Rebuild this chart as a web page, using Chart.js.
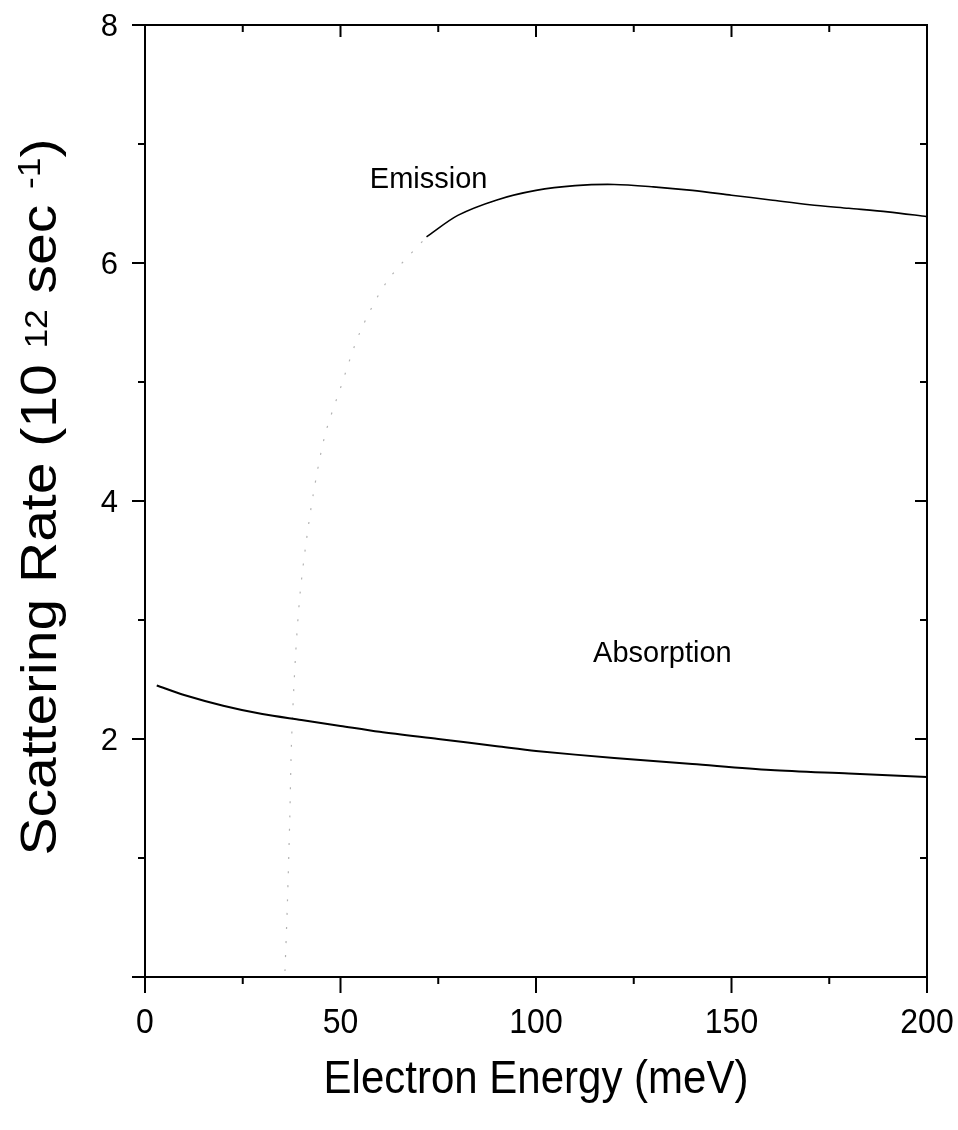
<!DOCTYPE html>
<html>
<head>
<meta charset="utf-8">
<script src="https://cdn.jsdelivr.net/npm/chart.js@4"></script>
<style>
  html, body { margin: 0; padding: 0; background: #fff; }
  #wrap { width: 958px; height: 1130px; }
</style>
</head>
<body>
<div id="wrap"><canvas id="myChart" width="958" height="1130"></canvas></div>
<script>
// Datos (meV, 10^12 s^-1)
const onsetEnergy = [35.8, 36.4, 37.0, 37.5, 38.5, 39.6, 41, 43, 46, 50, 55, 62, 72];
const onsetRate   = [0.05, 0.6, 1.3, 2.0, 2.7, 3.2, 3.6, 4.05, 4.55, 4.95, 5.42, 5.85, 6.22];

const emissionEnergy = [72, 80, 90, 100, 110, 120, 130, 140, 150, 160, 170, 180, 190, 200];
const emissionRate   = [6.22, 6.4, 6.53, 6.61, 6.65, 6.66, 6.64, 6.61, 6.57, 6.53, 6.49, 6.46, 6.43, 6.39];

const absorptionEnergy = [3, 10, 20, 30, 40, 50, 60, 75, 90, 100, 120, 140, 160, 180, 200];
const absorptionRate   = [2.45, 2.37, 2.28, 2.21, 2.16, 2.11, 2.06, 2.0, 1.94, 1.9, 1.84, 1.79, 1.74, 1.71, 1.68];

// Etiquetas de las curvas (posicion en unidades de datos)
const curveLabels = ['Emission', 'Absorption'];
const curveLabelX = [57.5, 114.6];
const curveLabelY = [6.63, 2.65];

const xTicksMajor = [0, 50, 100, 150, 200];
const yTicksMajor = [2, 4, 6, 8];

function toPoints(xs, ys) {
    return xs.map((x, i) => ({ x: x, y: ys[i] }));
}

const FONT = '"Liberation Sans", Arial, sans-serif';

// Marco, marcas de los ejes, titulos y etiquetas
const decoPlugin = {
    id: 'deco',
    afterDatasetsDraw(chart) {
        const ctx = chart.ctx;
        const xs = chart.scales.x, ys = chart.scales.y;
        const a = chart.chartArea;
        ctx.save();
        ctx.strokeStyle = '#000';
        ctx.lineWidth = 2;
        ctx.strokeRect(a.left, a.top, a.right - a.left, a.bottom - a.top);

        ctx.beginPath();
        for (let v = 0; v <= 200; v += 25) {
            const px = xs.getPixelForValue(v);
            const major = v % 50 === 0;
            ctx.moveTo(px, a.bottom); ctx.lineTo(px, a.bottom + (major ? 16 : 7));
            ctx.moveTo(px, a.top); ctx.lineTo(px, a.top + (major ? 12 : 7));
        }
        for (let v = 0; v <= 8; v += 1) {
            const py = ys.getPixelForValue(v);
            const major = v % 2 === 0;
            ctx.moveTo(a.left, py); ctx.lineTo(a.left - (major ? 13 : 7), py);
            ctx.moveTo(a.right, py); ctx.lineTo(a.right - (major ? 12 : 7), py);
        }
        ctx.stroke();

        ctx.fillStyle = '#000';

        // etiquetas del eje x
        ctx.font = '32px ' + FONT;
        ctx.textAlign = 'center';
        ctx.textBaseline = 'alphabetic';
        xTicksMajor.forEach(v => {
            ctx.save();
            ctx.translate(xs.getPixelForValue(v), a.bottom + 56);
            ctx.scale(1, 1.12);
            ctx.fillText(String(v), 0, 0);
            ctx.restore();
        });

        // etiquetas del eje y
        ctx.font = '31px ' + FONT;
        ctx.textAlign = 'right';
        yTicksMajor.forEach(v => {
            ctx.fillText(String(v), a.left - 27, ys.getPixelForValue(v) + 11);
        });

        // etiquetas de curvas
        ctx.font = '29px ' + FONT;
        ctx.textAlign = 'left';
        curveLabels.forEach((t, i) => {
            ctx.fillText(t, xs.getPixelForValue(curveLabelX[i]), ys.getPixelForValue(curveLabelY[i]));
        });

        // titulo eje x
        ctx.save();
        ctx.font = '42px ' + FONT;
        ctx.textAlign = 'center';
        ctx.translate((a.left + a.right) / 2, 1093);
        ctx.scale(1, 1.12);
        ctx.fillText('Electron Energy (meV)', 0, 0);
        ctx.restore();

        // titulo eje y con superindices
        const parts = [
            { t: 'Scattering Rate (10 ', s: 50, r: 0 },
            { t: '12', s: 31, r: 9 },
            { t: ' sec ', s: 50, r: 0 },
            { t: '-1', s: 31, r: 16 },
            { t: ')', s: 50, r: 0 }
        ];
        let total = 0;
        parts.forEach(p => { ctx.font = p.s + 'px ' + FONT; p.w = ctx.measureText(p.t).width; total += p.w; });
        ctx.translate(56, 497);
        ctx.rotate(-Math.PI / 2);
        ctx.scale(1.14, 1);
        ctx.textAlign = 'left';
        let cx = -total / 2;
        parts.forEach(p => {
            ctx.font = p.s + 'px ' + FONT;
            ctx.fillText(p.t, cx, -p.r);
            cx += p.w;
        });
        ctx.restore();
    }
};

function crearGrafico() {
    const ctx = document.getElementById('myChart').getContext('2d');
    new Chart(ctx, {
        type: 'line',
        data: {
            datasets: [
                {
                    label: 'Emission onset',
                    data: toPoints(onsetEnergy, onsetRate),
                    borderColor: 'rgba(0,0,0,0.3)',
                    borderWidth: 1.2,
                    borderDash: [2, 12],
                    pointRadius: 0,
                    tension: 0.3,
                    fill: false
                },
                {
                    label: 'Emission',
                    data: toPoints(emissionEnergy, emissionRate),
                    borderColor: '#000',
                    borderWidth: 1.6,
                    pointRadius: 0,
                    tension: 0.3,
                    fill: false
                },
                {
                    label: 'Absorption',
                    data: toPoints(absorptionEnergy, absorptionRate),
                    borderColor: '#000',
                    borderWidth: 2,
                    pointRadius: 0,
                    tension: 0.3,
                    fill: false
                }
            ]
        },
        options: {
            responsive: false,
            animation: false,
            layout: { padding: { top: 25, right: 31, left: 0, bottom: 0 } },
            scales: {
                x: {
                    type: 'linear',
                    min: 0,
                    max: 200,
                    grid: { display: false },
                    border: { display: false },
                    ticks: { display: false },
                    afterFit: (scale) => { scale.height = 153; }
                },
                y: {
                    min: 0,
                    max: 8,
                    grid: { display: false },
                    border: { display: false },
                    ticks: { display: false },
                    afterFit: (scale) => { scale.width = 145; }
                }
            },
            plugins: {
                legend: { display: false },
                tooltip: { enabled: false }
            }
        },
        plugins: [decoPlugin]
    });
}

crearGrafico();
</script>
</body>
</html>
